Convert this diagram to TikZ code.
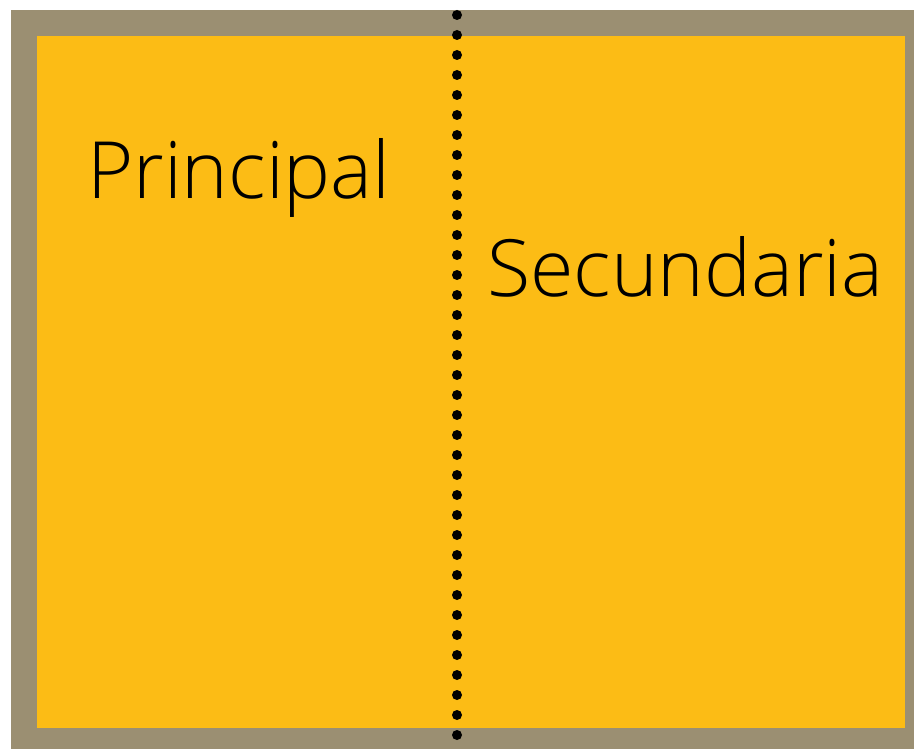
\documentclass[tikz,border=0pt]{standalone}
\usepackage{fontspec}
\setmainfont{Open Sans Light}
\definecolor{marco}{HTML}{9B8F72}
\definecolor{hoja}{HTML}{FCBC15}

\begin{document}
\begin{tikzpicture}[x=1pt,y=-1pt,
    etiqueta/.style={anchor=base west, inner sep=0pt, font=\fontsize{79}{90}\selectfont},
    punto/.style={fill=black}]
  \useasboundingbox (0,0) rectangle (914,749);
  \fill[marco] (11,10) rectangle (914,749);
  \fill[hoja] (37,36) rectangle (905,728);
  \foreach \y in {15,35,...,735}
    \fill[punto] (457,\y) circle (5);
  \node[etiqueta] (principal) at (87,199) {Principal};
  \node[etiqueta] (secundaria) at (487,296) {Secundaria};
\end{tikzpicture}
\end{document}
